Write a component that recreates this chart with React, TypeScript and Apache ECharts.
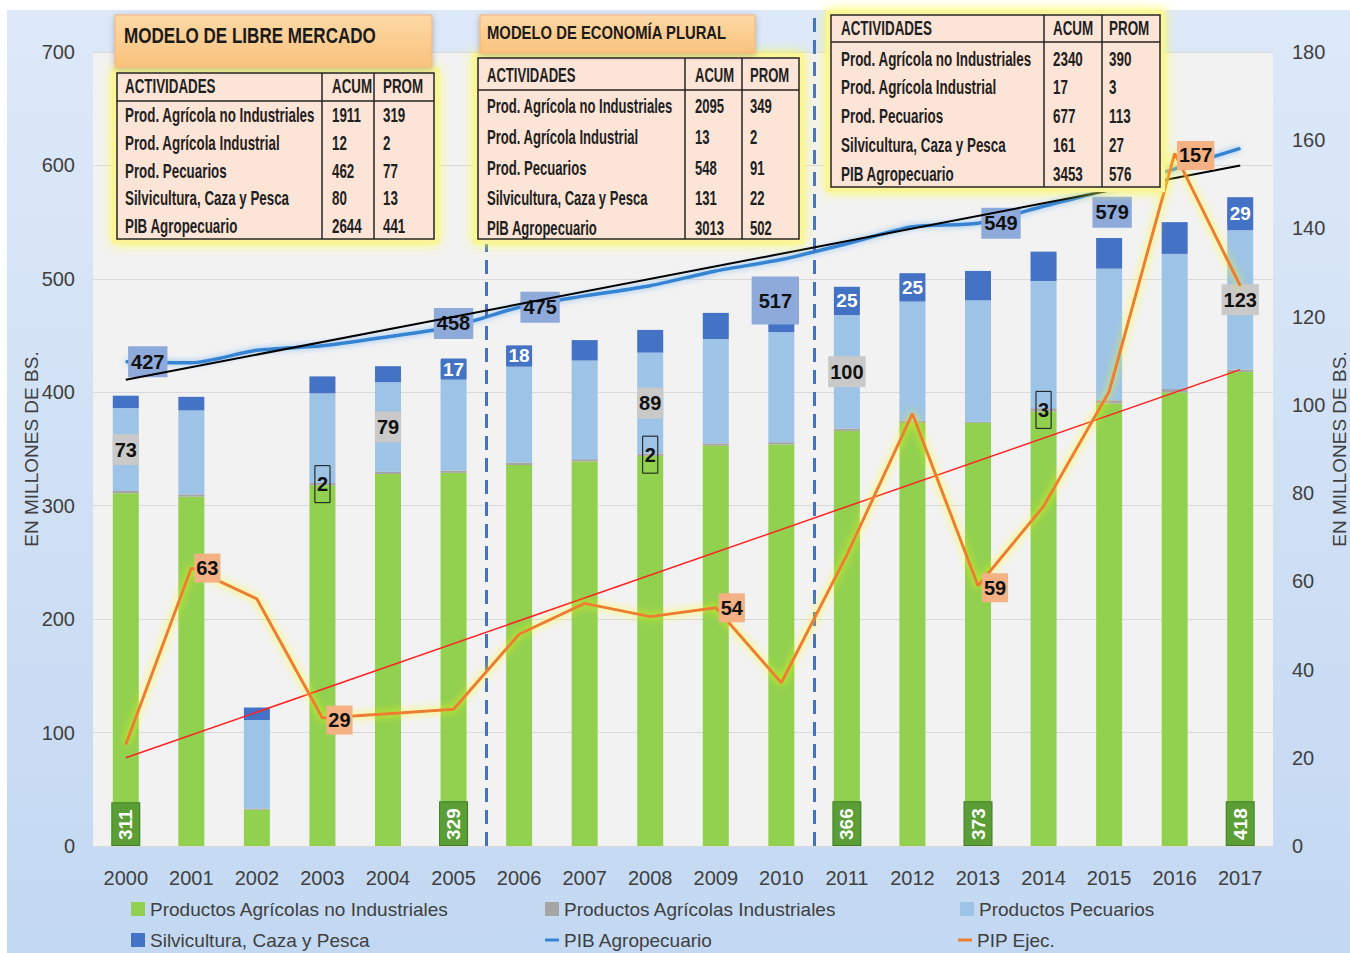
import React, { useEffect, useRef } from 'react';
import * as echarts from 'echarts';

// ---------------- DATA ----------------
const years = ['2000', '2001', '2002', '2003', '2004', '2005', '2006', '2007', '2008', '2009', '2010', '2011', '2012', '2013', '2014', '2015', '2016', '2017'];
const agricolaNoInd = [311, 308, 32, 318, 328, 329, 336, 339, 344, 353, 354, 366, 373, 373, 383, 390, 400, 418];
const agricolaInd = [2, 2, 1, 2, 2, 2, 2, 2, 2, 2, 2, 2, 2, 1, 3, 3, 3, 2];
const pecuarios = [73, 74, 78, 79, 79, 81, 85, 87, 89, 92, 97, 100, 105, 107, 112, 116, 119, 123];
const silvicultura = [11, 12, 11, 15, 14, 17, 18, 18, 20, 23, 22, 25, 25, 26, 26, 27, 28, 29];
const pibAgropecuario = [427, 426, 437, 441, 449, 458, 475, 485, 494, 507, 517, 531, 546, 549, 564, 579, 597, 615];
const pipEjec = [23, 63, 56, 29, 30, 31, 48, 55, 52, 54, 37, 66, 98, 59, 77, 103, 157, 127];
const pibTrend = [411, null, null, null, null, null, null, null, null, null, null, null, null, null, null, null, null, 600];
const pipTrend = [20, null, null, null, null, null, null, null, null, null, null, null, null, null, null, null, null, 108];

const leftAxis = { min: 0, max: 700, interval: 100 };
const rightAxis = { min: 0, max: 180, interval: 20 };
const dividers = [5.5, 10.5];

const greenLabelIdx = [0, 5, 11, 13, 17];
const grayLabelIdx = [3, 8, 14];
const pecLabelIdx = [0, 4, 8, 11, 17];
const silvLabelIdx = [5, 6, 11, 12, 17];
const pibLabelIdx = [0, 5, 6, 10, 13, 15];
const pipLabelIdx = [1, 3, 9, 13, 16];

const seriesNames = ['Productos Agrícolas no Industriales', 'Productos Agrícolas Industriales', 'Productos Pecuarios', 'Silvicultura, Caza y Pesca', 'PIB Agropecuario', 'PIP Ejec.'];
const axisName = 'EN MILLONES DE BS.';

const tableTitle1 = 'MODELO DE LIBRE MERCADO';
const tableTitle2 = 'MODELO DE ECONOMÍA PLURAL';
const tableHeader = ['ACTIVIDADES', 'ACUM', 'PROM'];
const activities = ['Prod. Agrícola no Industriales', 'Prod. Agrícola Industrial', 'Prod. Pecuarios', 'Silvicultura, Caza y Pesca', 'PIB Agropecuario'];
const acum1 = [1911, 12, 462, 80, 2644];
const prom1 = [319, 2, 77, 13, 441];
const acum2 = [2095, 13, 548, 131, 3013];
const prom2 = [349, 2, 91, 22, 502];
const acum3 = [2340, 17, 677, 161, 3453];
const prom3 = [390, 3, 113, 27, 576];

// ---------------- STYLE ----------------
const FONT = "'Liberation Sans', Arial, sans-serif";
const TABLE_FONT = "'Liberation Sans', Arial, sans-serif";
const pibLabelOffset: Record<number, number[]> = { 0: [22, 0], 5: [0, -3], 6: [21, 0], 10: [-6, 41], 13: [23, 0], 15: [3, 23] };
const pipLabelOffset: Record<number, number[]> = { 1: [16, 0], 3: [17, 2], 9: [16, 0], 13: [17, 2], 16: [21, 2] };

type Geo = { left: number; top: number; right: number; bottom: number; header: number; cols: number[]; pads: number[]; rowY: number[]; fontSize: number; nameW: number };
const geo1: Geo = { left: 117, top: 73, right: 434, bottom: 239, header: 101, cols: [117, 322, 374], pads: [8, 10, 9], rowY: [87, 116, 144, 172, 199, 227], fontSize: 20, nameW: 190 };
const geo2: Geo = { left: 478, top: 58, right: 799, bottom: 239, header: 90, cols: [478, 685, 742], pads: [9, 10, 8], rowY: [75, 106, 137, 168, 198, 228], fontSize: 20, nameW: 186 };
const geo3: Geo = { left: 831, top: 15, right: 1160, bottom: 187, header: 42, cols: [831, 1044, 1102], pads: [10, 9, 7], rowY: [29, 60, 88, 117, 146, 175], fontSize: 20, nameW: 191 };

function textWidth(text: string, font: string) {
  const c = document.createElement('canvas').getContext('2d')!;
  c.font = font;
  return c.measureText(text).width;
}

function buildTable(g: Geo, acum: number[], prom: number[]) {
  const els: any[] = [];
  const s = g.nameW / textWidth(activities[0], `bold ${g.fontSize}px ${TABLE_FONT}`);
  els.push({ type: 'rect', z: 100, shape: { x: g.left - 5, y: g.top - 5, width: g.right - g.left + 10, height: g.bottom - g.top + 10 }, style: { fill: '#fbf59a', shadowBlur: 12, shadowColor: 'rgba(255,255,60,0.9)' } });
  els.push({ type: 'rect', z: 101, shape: { x: g.left, y: g.top, width: g.right - g.left, height: g.bottom - g.top }, style: { fill: '#fce4d6', stroke: '#262626', lineWidth: 1.5 } });
  els.push({ type: 'line', z: 102, shape: { x1: g.left, y1: g.header, x2: g.right, y2: g.header }, style: { stroke: '#262626', lineWidth: 1.5 } });
  [g.cols[1], g.cols[2]].forEach((cx) => els.push({ type: 'line', z: 102, shape: { x1: cx, y1: g.top, x2: cx, y2: g.bottom }, style: { stroke: '#262626', lineWidth: 1.5 } }));
  const rows = [tableHeader, ...activities.map((a, i) => [a, String(acum[i]), String(prom[i])])];
  rows.forEach((r, ri) => r.forEach((t, ci) => {
    els.push({
      type: 'text', z: 103, x: g.cols[ci] + g.pads[ci], y: g.rowY[ri], scaleX: s,
      style: { text: t, fontSize: g.fontSize, fontWeight: 'bold', fontFamily: TABLE_FONT, fill: '#1f1f1f', align: 'left', verticalAlign: 'middle', textAlign: 'left', textVerticalAlign: 'middle' },
    });
  }));
  return els;
}

function buildTitle(x: number, y: number, w: number, h: number, text: string, tx: number, ty: number, fs: number, tw: number) {
  const s = tw / textWidth(text, `bold ${fs}px ${TABLE_FONT}`);
  return [
    { type: 'rect', z: 104, shape: { x, y, width: w, height: h }, style: { fill: new echarts.graphic.LinearGradient(0, 0, 0, 1, [{ offset: 0, color: '#fdd9a6' }, { offset: 1, color: '#f9c27c' }]), stroke: '#f4b27a', lineWidth: 1, shadowBlur: 6, shadowColor: 'rgba(0,0,0,0.25)', shadowOffsetY: 2 } },
    { type: 'text', z: 105, x: tx, y: ty, scaleX: s, style: { text, fontSize: fs, fontWeight: 'bold', fontFamily: TABLE_FONT, fill: '#1a1a1a', align: 'left', verticalAlign: 'middle', textAlign: 'left', textVerticalAlign: 'middle' } },
  ];
}

function withLabels(values: (number | null)[], idx: number[], label: (i: number) => any) {
  return values.map((v, i) => (idx.includes(i) ? { value: v, label: { show: true, ...label(i) } } : v));
}

function buildOption(): any {
  const labelFont = { fontFamily: FONT, fontWeight: 'bold', fontSize: 20 };
  const legendBase = { orient: 'horizontal', padding: 0, selectedMode: false, itemGap: 0, textStyle: { fontSize: 19, color: '#404040', fontFamily: FONT } };
  const graphics: any[] = [
    { type: 'rect', z: -1, shape: { x: 7, y: 10, width: 1343, height: 943 }, style: { fill: new echarts.graphic.LinearGradient(0, 0, 0, 1, [{ offset: 0, color: '#dde9f8' }, { offset: 1, color: '#c3d8f2' }]) } },
    ...buildTable(geo1, acum1, prom1),
    ...buildTable(geo2, acum2, prom2),
    ...buildTable(geo3, acum3, prom3),
    ...buildTitle(115, 15, 317, 52, tableTitle1, 124, 35, 22, 252),
    ...buildTitle(480, 15, 275, 38, tableTitle2, 487, 33, 19, 240),
  ];
  return {
    animation: false,
    backgroundColor: '#ffffff',
    grid: { left: 93, right: 77, top: 52, bottom: 107, show: true, backgroundColor: '#f2f2f2', borderWidth: 0, containLabel: false, outerBoundsMode: 'none' },
    graphic: { elements: graphics },
    legend: [
      { ...legendBase, data: [{ name: seriesNames[0], icon: 'rect' }], left: 131, top: 899.5, itemWidth: 14, itemHeight: 14 },
      { ...legendBase, data: [{ name: seriesNames[1], icon: 'rect' }], left: 545, top: 899.5, itemWidth: 14, itemHeight: 14 },
      { ...legendBase, data: [{ name: seriesNames[2], icon: 'rect' }], left: 960, top: 899.5, itemWidth: 14, itemHeight: 14 },
      { ...legendBase, data: [{ name: seriesNames[3], icon: 'rect' }], left: 131, top: 930.5, itemWidth: 14, itemHeight: 14 },
      { ...legendBase, data: [{ name: seriesNames[4], icon: 'rect' }], left: 545, top: 930.5, itemWidth: 14, itemHeight: 3 },
      { ...legendBase, data: [{ name: seriesNames[5], icon: 'rect' }], left: 958, top: 930.5, itemWidth: 14, itemHeight: 3 },
    ],
    xAxis: [
      { type: 'category', data: years, axisTick: { show: false }, axisLine: { show: true, lineStyle: { color: '#d9d9d9' } }, axisLabel: { fontSize: 20, color: '#404040', fontFamily: FONT, margin: 22 } },
      { type: 'value', min: -0.5, max: 17.5, show: false },
    ],
    yAxis: [
      { type: 'value', ...leftAxis, name: axisName, nameLocation: 'middle', nameRotate: 90, nameGap: 52, nameMoveOverlap: false, nameTextStyle: { fontSize: 19, color: '#404040', fontFamily: FONT }, axisLabel: { fontSize: 20, color: '#404040', fontFamily: FONT, margin: 18 }, splitLine: { lineStyle: { color: '#d9d9d9' } }, axisLine: { show: false }, axisTick: { show: false } },
      { type: 'value', ...rightAxis, name: axisName, nameLocation: 'middle', nameRotate: 90, nameGap: 57, nameMoveOverlap: false, nameTextStyle: { fontSize: 19, color: '#404040', fontFamily: FONT }, axisLabel: { fontSize: 20, color: '#404040', fontFamily: FONT, margin: 19 }, splitLine: { show: false }, axisLine: { show: false }, axisTick: { show: false } },
    ],
    series: [
      {
        name: seriesNames[0], type: 'bar', stack: 'a', barWidth: 26, itemStyle: { color: '#92d050' },
        data: withLabels(agricolaNoInd, greenLabelIdx, () => ({ position: 'insideBottom', rotate: 90, align: 'left', verticalAlign: 'middle', distance: 1, ...labelFont, fontSize: 19, color: '#ffffff', backgroundColor: '#5a9e35', borderColor: '#3f7f27', borderWidth: 1, padding: [4, 6, 4, 5] })),
      },
      {
        name: seriesNames[1], type: 'bar', stack: 'a', barWidth: 26, itemStyle: { color: '#a5a5a5' },
        data: withLabels(agricolaInd, grayLabelIdx, () => ({ position: 'inside', ...labelFont, color: '#111', borderColor: '#111', borderWidth: 1, padding: [9, 2, 8, 2] })),
      },
      {
        name: seriesNames[2], type: 'bar', stack: 'a', barWidth: 26, itemStyle: { color: '#9dc3e6' },
        data: withLabels(pecuarios, pecLabelIdx, () => ({ position: 'inside', ...labelFont, color: '#111', backgroundColor: '#c9c9c9', padding: [6, 2, 5, 2] })),
      },
      {
        name: seriesNames[3], type: 'bar', stack: 'a', barWidth: 26, itemStyle: { color: '#4472c4' },
        data: withLabels(silvicultura, silvLabelIdx, () => ({ position: 'inside', ...labelFont, fontSize: 19, color: '#ffffff', backgroundColor: '#4472c4', padding: [1, 2] })),
      },
      {
        name: 'trendPIP', type: 'line', yAxisIndex: 1, data: pipTrend, connectNulls: true, symbol: 'none', z: 3,
        lineStyle: { color: '#ff2020', width: 1.5 }, itemStyle: { color: '#ff2020' },
      },
      {
        name: seriesNames[4], type: 'line', yAxisIndex: 0, smooth: 0.25, symbol: 'circle', symbolSize: 1, showSymbol: true, z: 4,
        lineStyle: { color: '#3584d4', width: 3.5, shadowColor: 'rgba(120,180,240,0.9)', shadowBlur: 6 }, itemStyle: { color: '#3584d4' },
        data: withLabels(pibAgropecuario, pibLabelIdx, (i) => ({ position: 'inside', offset: pibLabelOffset[i], ...labelFont, color: '#111', backgroundColor: '#8eaadb', padding: i === 10 ? [14, 7] : [6, 3, 5, 3] })),
      },
      {
        name: 'trendPIB', type: 'line', yAxisIndex: 0, data: pibTrend, connectNulls: true, symbol: 'none', z: 5,
        lineStyle: { color: '#000000', width: 2 }, itemStyle: { color: '#000' },
      },
      {
        name: seriesNames[5], type: 'line', yAxisIndex: 1, symbol: 'circle', symbolSize: 1, showSymbol: true, z: 6,
        lineStyle: { color: '#ed7d31', width: 3, shadowColor: 'rgba(255,255,0,0.95)', shadowBlur: 8 }, itemStyle: { color: '#ed7d31' },
        data: withLabels(pipEjec, pipLabelIdx, (i) => ({ position: 'inside', offset: pipLabelOffset[i], ...labelFont, color: '#111', backgroundColor: '#f4b183', padding: [5, 2, 4, 2] })),
      },
      {
        name: 'dividers', type: 'line', xAxisIndex: 1, yAxisIndex: 0, data: [], z: 1,
        markLine: {
          silent: true, symbol: 'none', label: { show: false },
          lineStyle: { color: '#4472c4', width: 3, type: [14, 8] },
          data: [
            [{ xAxis: dividers[0], yAxis: 0 }, { xAxis: dividers[0], yAxis: 700 }],
            [{ xAxis: dividers[1], yAxis: 0 }, { xAxis: dividers[1], yAxis: 700, y: 12 }],
          ],
        },
      },
    ],
  };
}

export default function App() {
  const ref = useRef<HTMLDivElement>(null);
  useEffect(() => {
    const chart = echarts.init(ref.current!, null, { renderer: 'svg' });
    chart.setOption(buildOption());
    return () => chart.dispose();
  }, []);
  return <div ref={ref} style={{ position: 'absolute', left: 0, top: 0, width: 1350, height: 953 }} />;
}
